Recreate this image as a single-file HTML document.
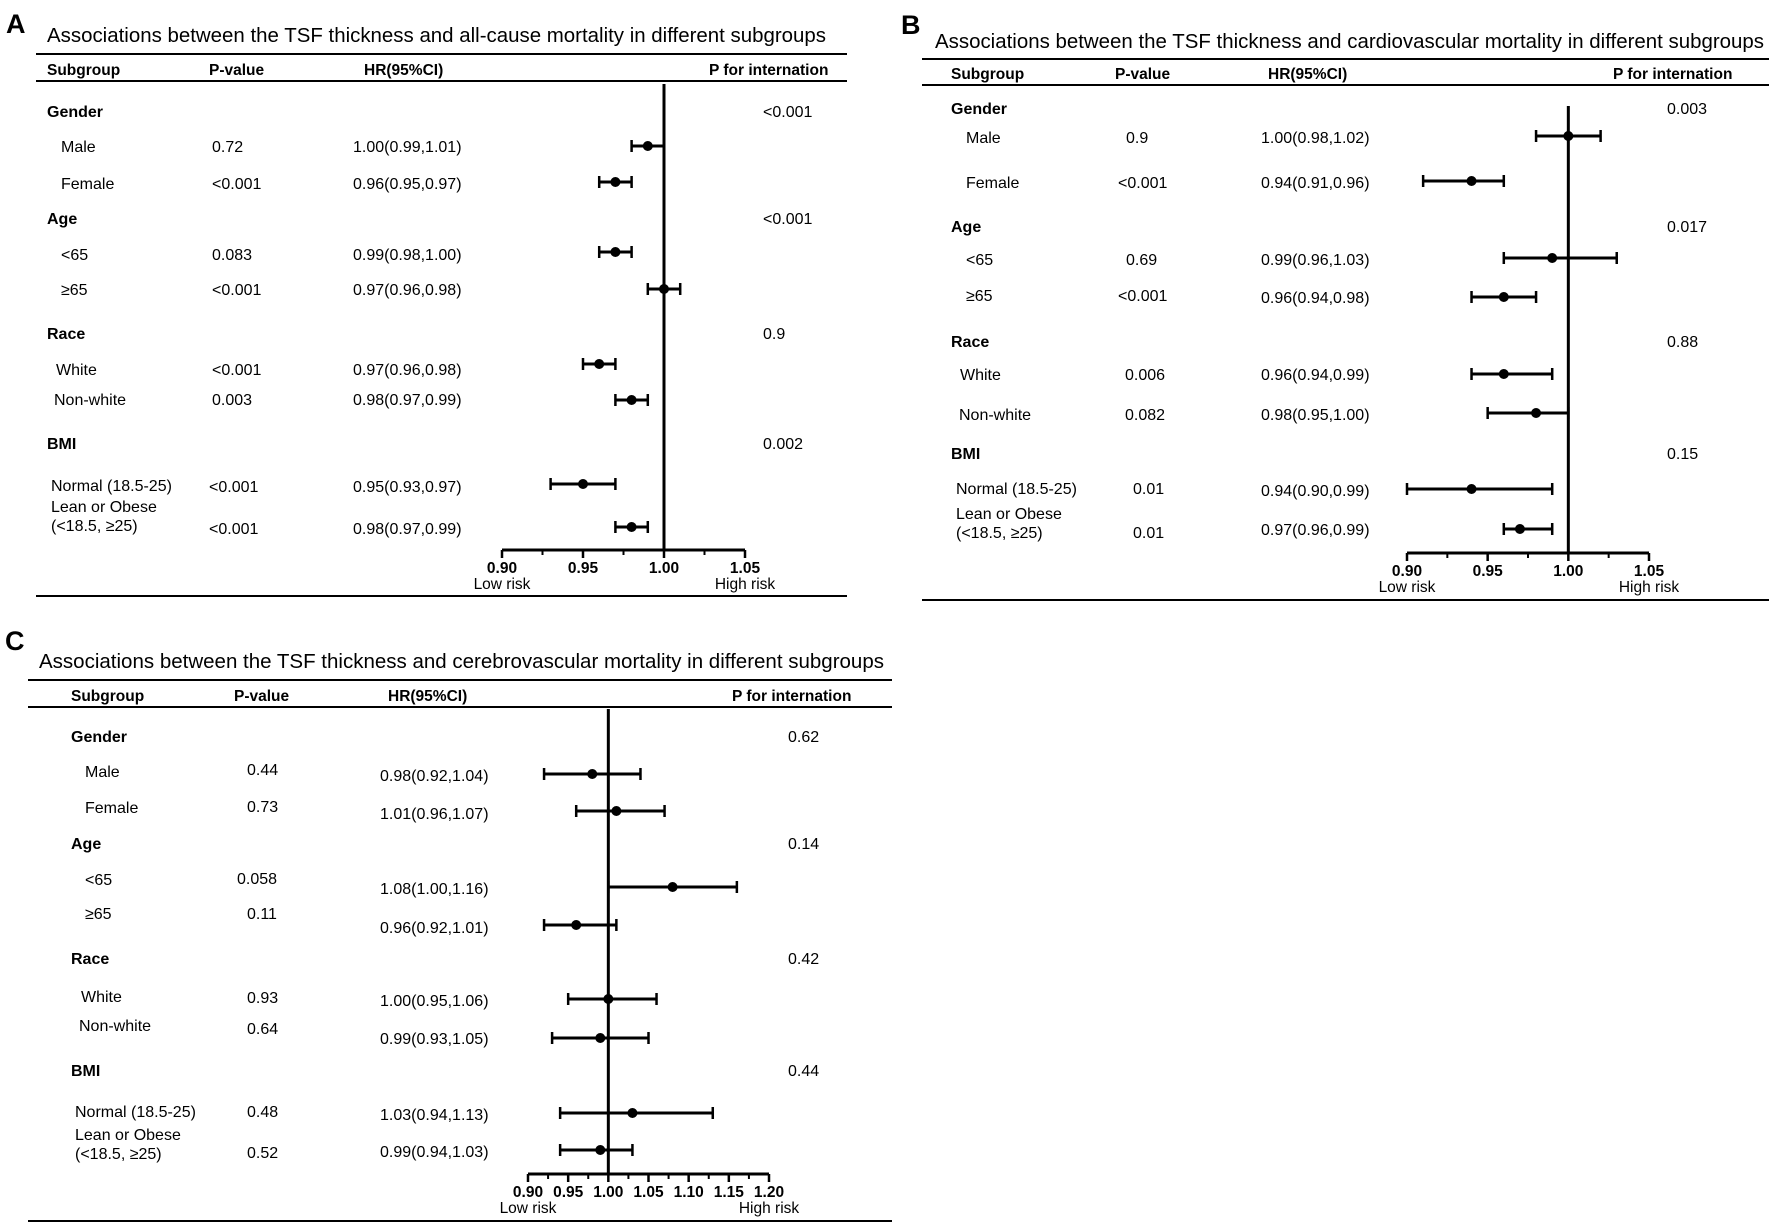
<!DOCTYPE html>
<html><head><meta charset="utf-8"><style>
html,body{margin:0;padding:0;background:#fff;}
svg{display:block;font-family:"Liberation Sans",Arial,sans-serif;}
</style></head><body>
<svg id="fig" width="1772" height="1226" viewBox="0 0 1772 1226" xmlns="http://www.w3.org/2000/svg"></svg>
<script>
// Panel A data (all-cause mortality)
const catsA = ["Male","Female","<65","≥65","White","Non-white","Normal (18.5-25)","Lean or Obese"];
const hrA = [0.99,0.97,0.97,1.00,0.96,0.98,0.95,0.98];
const loA = [0.98,0.96,0.96,0.99,0.95,0.97,0.93,0.97];
const hiA = [1.00,0.98,0.98,1.01,0.97,0.99,0.97,0.99];
const pA = ["0.72","<0.001","0.083","<0.001","<0.001","0.003","<0.001","<0.001"];
const hrTextA = ["1.00(0.99,1.01)","0.96(0.95,0.97)","0.99(0.98,1.00)","0.97(0.96,0.98)","0.97(0.96,0.98)","0.98(0.97,0.99)","0.95(0.93,0.97)","0.98(0.97,0.99)"];
const pintA = ["<0.001","<0.001","0.9","0.002"];
const ticksA = [0.90,0.95,1.00,1.05];
// Panel B data (cardiovascular mortality)
const hrB = [1.00,0.94,0.99,0.96,0.96,0.98,0.94,0.97];
const loB = [0.98,0.91,0.96,0.94,0.94,0.95,0.90,0.96];
const hiB = [1.02,0.96,1.03,0.98,0.99,1.00,0.99,0.99];
const pB = ["0.9","<0.001","0.69","<0.001","0.006","0.082","0.01","0.01"];
const hrTextB = ["1.00(0.98,1.02)","0.94(0.91,0.96)","0.99(0.96,1.03)","0.96(0.94,0.98)","0.96(0.94,0.99)","0.98(0.95,1.00)","0.94(0.90,0.99)","0.97(0.96,0.99)"];
const pintB = ["0.003","0.017","0.88","0.15"];
const ticksB = [0.90,0.95,1.00,1.05];
// Panel C data (cerebrovascular mortality)
const hrC = [0.98,1.01,1.08,0.96,1.00,0.99,1.03,0.99];
const loC = [0.92,0.96,1.00,0.92,0.95,0.93,0.94,0.94];
const hiC = [1.04,1.07,1.16,1.01,1.06,1.05,1.13,1.03];
const pC = ["0.44","0.73","0.058","0.11","0.93","0.64","0.48","0.52"];
const hrTextC = ["0.98(0.92,1.04)","1.01(0.96,1.07)","1.08(1.00,1.16)","0.96(0.92,1.01)","1.00(0.95,1.06)","0.99(0.93,1.05)","1.03(0.94,1.13)","0.99(0.94,1.03)"];
const pintC = ["0.62","0.14","0.42","0.44"];
const ticksC = [0.90,0.95,1.00,1.05,1.10,1.15,1.20];
const groups = ["Gender","Age","Race","BMI"];

const NS="http://www.w3.org/2000/svg";
const svg=document.getElementById('fig');
function mk(tag,attrs,parent,txt){const e=document.createElementNS(NS,tag);for(const k in attrs)e.setAttribute(k,attrs[k]);if(txt!==undefined)e.textContent=txt;(parent||svg).appendChild(e);return e;}

function panel(cfg){
  const g=mk('g',{});
  
  
  let t=mk('text',{x:cfg.letter[0],y:cfg.letter[1],'font-size':27,'font-weight':'bold'},g,cfg.id.toUpperCase());
   
  t=mk('text',{x:cfg.title[0],y:cfg.title[1],'font-size':20,textLength:cfg.title[2],lengthAdjust:'spacingAndGlyphs'},g,cfg.titleText);
   
  [cfg.rule1,cfg.rule2,cfg.rule3].forEach((y,i)=>{const l=mk('line',{x1:cfg.rx[0],x2:cfg.rx[1],y1:y,y2:y,stroke:'#000','stroke-width':2},g);
     });
  const hdr=[["Subgroup",cfg.hx[0]],["P-value",cfg.hx[1]],["HR(95%CI)",cfg.hx[2]],["P for internation",cfg.hx[3]]];
  hdr.forEach(h=>{const e=mk('text',{x:h[1],y:cfg.hy,'font-size':15.5,'font-weight':'bold'},g,h[0]);
     });
  groups.forEach((gn,i)=>{
    const e=mk('text',{x:cfg.gx,y:cfg.gy[i]+6,'font-size':16,'font-weight':'bold'},g,gn);
     
    const p=mk('text',{x:cfg.pix,y:cfg.gy[i]+6,'font-size':16},g,cfg.pint[i]);
     
  });
  const sx=v=>cfg.ax0+(v-cfg.ticks[0])/(cfg.ticks[cfg.ticks.length-1]-cfg.ticks[0])*(cfg.ax1-cfg.ax0);
  for(let i=0;i<8;i++){
    const y=cfg.ry[i];
    if(i===7){
      let e=mk('text',{x:cfg.lx[i],y:y-3,'font-size':16},g,"Lean or Obese");
       
      e=mk('text',{x:cfg.lx[i],y:y+16,'font-size':16},g,"(<18.5, ≥25)");
       
    } else {
      const e=mk('text',{x:cfg.lx[i],y:y+6,'font-size':16},g,cfg.cats[i]);
       
    }
    let e=mk('text',{x:cfg.px[i],y:cfg.py[i]+6,'font-size':16},g,cfg.p[i]);
     
    e=mk('text',{x:cfg.hrx,y:cfg.hry[i]+6,'font-size':16},g,cfg.hrText[i]);
     
    const my=cfg.my[i];
    const ci=mk('g',{},g);
     
    mk('line',{x1:sx(cfg.lo[i]),x2:sx(cfg.hi[i]),y1:my,y2:my,stroke:'#000','stroke-width':3},ci);
    mk('line',{x1:sx(cfg.lo[i]),x2:sx(cfg.lo[i]),y1:my-6,y2:my+6,stroke:'#000','stroke-width':2.5},ci);
    mk('line',{x1:sx(cfg.hi[i]),x2:sx(cfg.hi[i]),y1:my-6,y2:my+6,stroke:'#000','stroke-width':2.5},ci);
    const c=mk('circle',{cx:sx(cfg.hr[i]),cy:my,r:5,fill:'#000'},g);
     
  }
  const ref=mk('line',{x1:sx(1),x2:sx(1),y1:cfg.vtop,y2:cfg.axy,stroke:'#000','stroke-width':3},g);
   
  const ax=mk('line',{x1:cfg.ax0,x2:cfg.ax1,y1:cfg.axy,y2:cfg.axy,stroke:'#000','stroke-width':3},g);
   
  cfg.ticks.forEach((v,i)=>{
    mk('line',{x1:sx(v),x2:sx(v),y1:cfg.axy,y2:cfg.axy+8,stroke:'#000','stroke-width':2.5},g);
    if(i<cfg.ticks.length-1){const m=(v+cfg.ticks[i+1])/2;mk('line',{x1:sx(m),x2:sx(m),y1:cfg.axy,y2:cfg.axy+5,stroke:'#000','stroke-width':2},g);}
    const e=mk('text',{x:sx(v),y:cfg.axy+23,'font-size':15.5,'font-weight':'bold','text-anchor':'middle'},g,v.toFixed(2));
     
  });
  let e=mk('text',{x:cfg.ax0,y:cfg.axy+39,'font-size':15.5,'text-anchor':'middle'},g,"Low  risk");
   
  e=mk('text',{x:cfg.ax1,y:cfg.axy+39,'font-size':15.5,'text-anchor':'middle'},g,"High  risk");
   
}

panel({id:'a',letter:[6,33],title:[47,42,779],titleText:"Associations between the TSF thickness and all-cause mortality in different subgroups",
  rx:[36,847],rule1:54,rule2:81,rule3:596,hy:75,hx:[47,209,364,709],gx:47,gy:[111,218,333,443],pix:763,pint:pintA,
  cats:catsA,lx:[61,61,61,61,56,54,51,51],ry:[146,183,254,289,369,399,485,515],
  px:[212,212,212,212,212,212,209,209],py:[146,183,254,289,369,399,486,528],hrx:353,hry:[146,183,254,289,369,399,486,528],
  my:[146,182,252,289,364,400,484,527],hr:hrA,lo:loA,hi:hiA,p:pA,hrText:hrTextA,ticks:ticksA,ax0:502,ax1:745,axy:550,vtop:84});
panel({id:'b',letter:[901,34],title:[935,48,829],titleText:"Associations between the TSF thickness and cardiovascular mortality in different subgroups",
  rx:[922,1769],rule1:59,rule2:85,rule3:600,hy:79,hx:[951,1115,1268,1613],gx:951,gy:[108,226,341,453],pix:1667,pint:pintB,
  cats:catsA,lx:[966,966,966,966,960,959,956,956],ry:[137,182,259,295,374,414,488,522],
  px:[1126,1118,1126,1118,1125,1125,1133,1133],py:[137,182,259,295,374,414,488,532],hrx:1261,hry:[137,182,259,297,374,414,490,529],
  my:[136,181,258,297,374,413,489,529],hr:hrB,lo:loB,hi:hiB,p:pB,hrText:hrTextB,ticks:ticksB,ax0:1407,ax1:1649,axy:553,vtop:106});
panel({id:'c',letter:[5,650],title:[39,668,845],titleText:"Associations between the TSF thickness and cerebrovascular mortality in different subgroups",
  rx:[28,892],rule1:680,rule2:707,rule3:1221,hy:701,hx:[71,234,388,732],gx:71,gy:[736,843,958,1070],pix:788,pint:pintC,
  cats:catsA,lx:[85,85,85,85,81,79,75,75],ry:[771,807,879,913,996,1025,1111,1143],
  px:[247,247,237,247,247,247,247,247],py:[769,806,878,913,997,1028,1111,1152],hrx:380,hry:[775,813,888,927,1000,1038,1114,1151],
  my:[774,811,887,925,999,1038,1113,1150],hr:hrC,lo:loC,hi:hiC,p:pC,hrText:hrTextC,ticks:ticksC,ax0:528,ax1:769,axy:1174,vtop:709});
</script>
</body></html>
